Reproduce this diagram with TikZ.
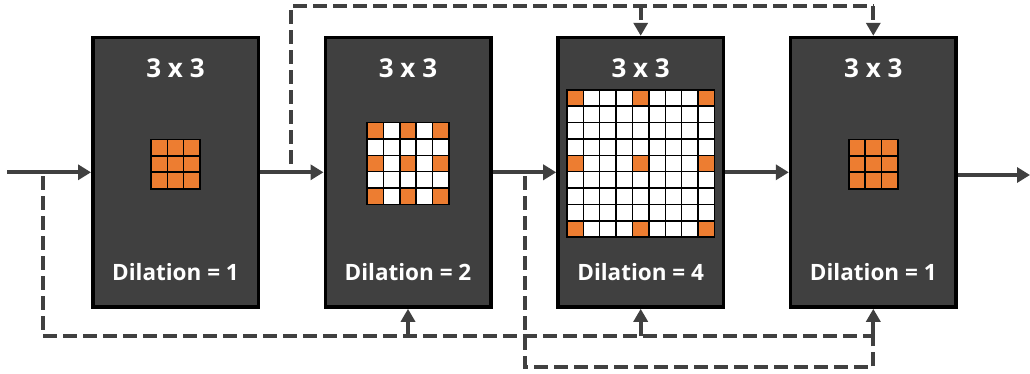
\documentclass[tikz,border=0pt]{standalone}
\usepackage{fontspec}
\setmainfont{Open Sans}
\usetikzlibrary{arrows.meta,calc}

\definecolor{panel}{HTML}{404040}
\definecolor{wire}{HTML}{404040}
\definecolor{kernel}{HTML}{ED7D31}

% cell size of the kernel grids, in picture units
\def\cellsz{16.4}

% dilated 3x3 kernel drawn as an n x n grid; orange where both indices are multiples of d
% #1 centre, #2 n, #3 d
\newcommand\dilgrid[3]{%
  \begin{scope}[shift={(#1)}]
    \pgfmathsetmacro\half{#2*\cellsz/2}
    \foreach \i in {1,...,#2}{
      \foreach \j in {1,...,#2}{
        \pgfmathtruncatemacro\hit{and(mod(\i-1,#3)==0,mod(\j-1,#3)==0)}
        \ifnum\hit=1 \def\cc{kernel}\else\def\cc{white}\fi
        \pgfmathsetmacro\xa{(\i-1)*\cellsz-\half}
        \pgfmathsetmacro\ya{(\j-1)*\cellsz-\half}
        \fill[\cc] (\xa,\ya) rectangle ++(\cellsz,\cellsz);
      }
    }
    \pgfmathtruncatemacro\np{#2+1}
    \foreach \k in {1,...,\np}{
      \pgfmathsetmacro\pos{(\k-1)*\cellsz-\half}
      \draw[gridline] (\pos,-\half) -- (\pos,\half);
      \draw[gridline] (-\half,\pos) -- (\half,\pos);
    }
    \draw[black,line width=1.8pt] (-\half,-\half) rectangle (\half,\half);
  \end{scope}}

\tikzset{
  block/.style={draw=black, fill=panel, line width=3.5pt,
    minimum width=165.5pt, minimum height=269.5pt, inner sep=0pt},
  title/.style={text=white, font=\bfseries\fontsize{26}{30}\selectfont, inner sep=0pt},
  dil/.style={text=white, font=\bfseries\fontsize{22.5}{26}\selectfont, inner sep=0pt},
  gridline/.style={black, line width=1.5pt},
  flow/.style={draw=wire, line width=4pt, -{Triangle[length=13pt,width=15pt]}},
  skip/.style={draw=wire, line width=4pt, dash pattern=on 14pt off 6pt},
  skiparrow/.style={skip, -{Triangle[length=13pt,width=14pt]}},
}

\begin{document}
\begin{tikzpicture}[x=1pt,y=-1pt]
\useasboundingbox (0,0) rectangle (1030,373);

% the four convolution blocks
\node[block] (b1) at (175.5,172.3) {};
\node[block] (b2) at (408,172.3) {};
\node[block] (b3) at (640.7,172.3) {};
\node[block] (b4) at (873.3,172.3) {};

\foreach \b/\d in {b1/1,b2/2,b3/4,b4/1}{
  \node[title] (t\b) at ($(\b.north)+(0,32.5)$) {3 x 3};
  \node[dil] (d\b) at ($(\b.south)+(0,-36.3)$) {Dilation = \d};
}

% kernel grids
\dilgrid{$(b1.center)+(0,-8.3)$}{3}{1}
\dilgrid{$(b2.center)+(0,-8.8)$}{5}{2}
\dilgrid{$(b3.center)+(0,-8.8)$}{9}{4}
\dilgrid{$(b4.center)+(0,-8.3)$}{3}{1}

% taps and routing levels
\coordinate (in)  at (7,172.3);
\coordinate (out) at (1030,175);
\coordinate (s0)  at (43,176);
\coordinate (s1)  at (291,164);
\coordinate (s2)  at (525,176);
\coordinate (top) at (0,6);
\coordinate (lo)  at (0,336);
\coordinate (lo2) at (0,367);

% main path
\draw[flow] (in) -- (b1.west);
\draw[flow] (b1.east) -- (b2.west);
\draw[flow] (b2.east) -- (b3.west);
\draw[flow] (b3.east) -- (b4.west);
\draw[flow] (b4.east |- out) -- (out);

% skip from the input
\draw[skip] (s0) |- (b4.south |- lo);
\draw[skiparrow] (b2.south |- lo) -- (b2.south);
\draw[skiparrow] (b3.south |- lo) -- (b3.south);
\draw[skiparrow] (b4.south |- lo) -- (b4.south);

% skip from the first block
\draw[skip] (s1) |- (b4.north |- top);
\draw[skiparrow] (b3.north |- top) -- (b3.north);
\draw[skiparrow] (b4.north |- top) -- (b4.north);

% skip from the second block
\draw[skip] (s2) |- (b4.south |- lo2) -- (b4.south |- lo);
\end{tikzpicture}
\end{document}
